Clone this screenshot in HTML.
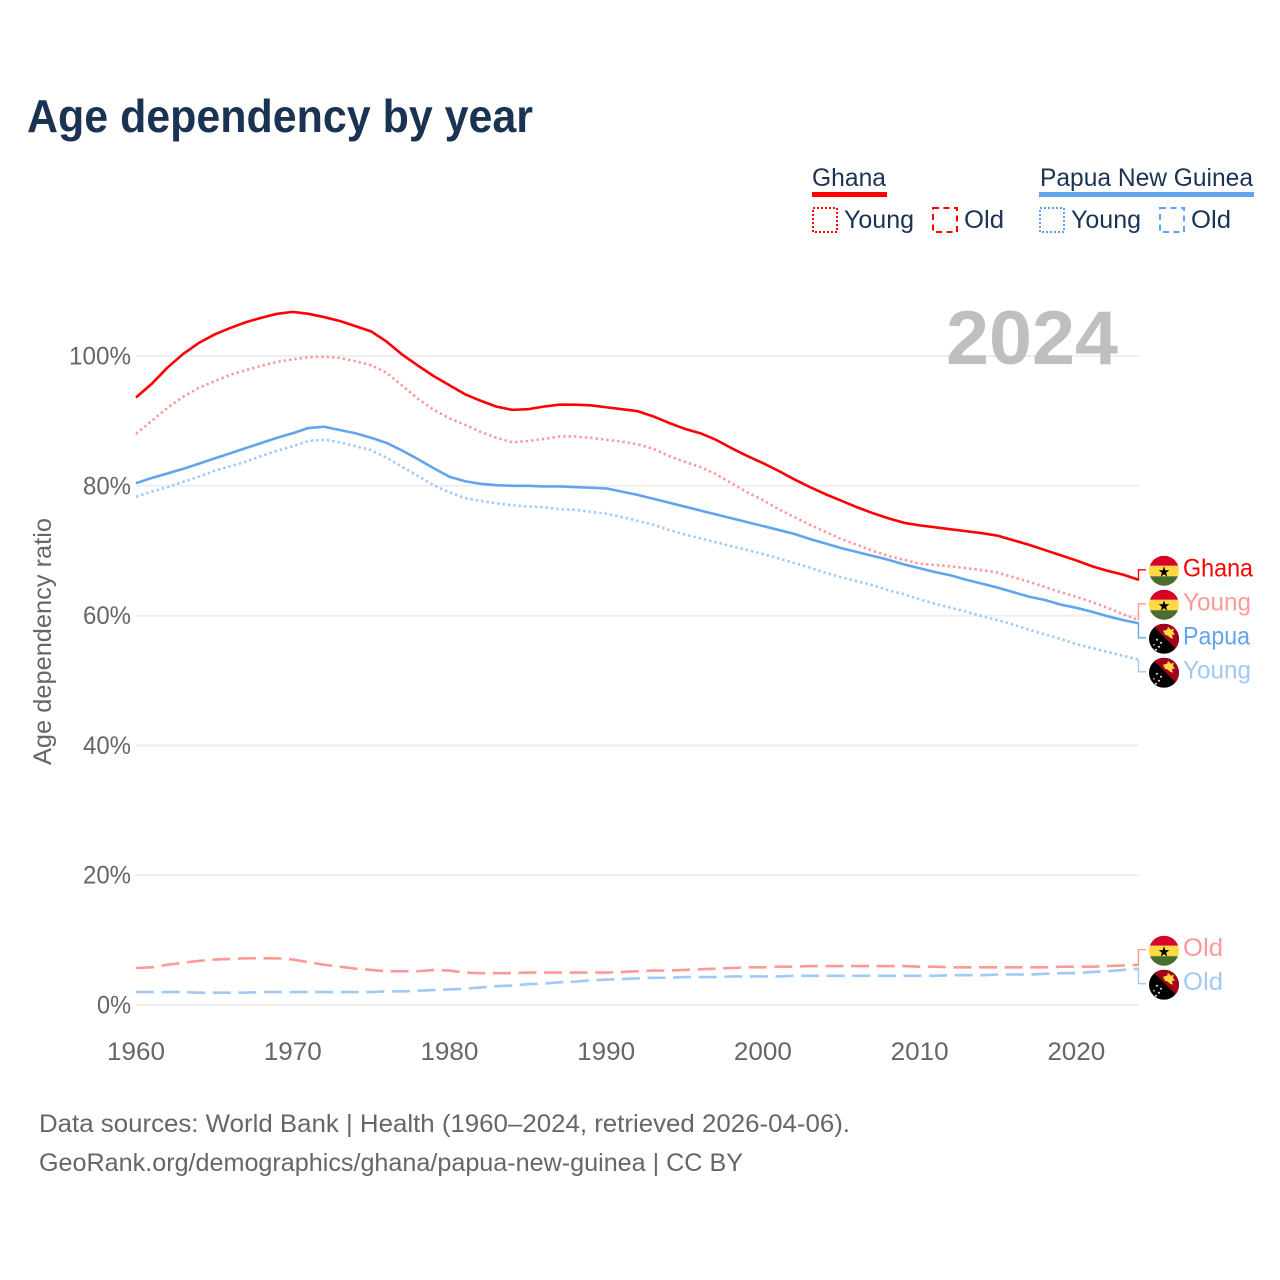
<!DOCTYPE html>
<html lang="en">
<head>
<meta charset="utf-8">
<title>Age dependency by year</title>
<style>
  html, body { margin: 0; padding: 0; background: #fff; }
  svg { display: block; font-family: "Liberation Sans", sans-serif; }
  .legend-text { fill: #1a3353; font-size: 25px; }
  .axis-text { fill: #666; font-size: 25px; }
</style>
</head>
<body>
<svg id="chart" xmlns="http://www.w3.org/2000/svg" width="1280" height="1280" viewBox="0 0 1280 1280">
  <defs>
    <clipPath id="flag-clip"><circle cx="0" cy="0" r="15"></circle></clipPath>
    <g id="flag-ghana" clip-path="url(#flag-clip)">
      <rect x="-15" y="-15" width="30" height="10" fill="#d80027"></rect>
      <rect x="-15" y="-5" width="30" height="10.5" fill="#ffda44"></rect>
      <rect x="-15" y="5.5" width="30" height="10" fill="#496e2d"></rect>
      <polygon points="0,-4.5 1.3,-0.6 5.4,-0.6 2.1,1.9 3.3,5.8 0,3.4 -3.3,5.8 -2.1,1.9 -5.4,-0.6 -1.3,-0.6" fill="#000"></polygon>
    </g>
    <g id="flag-png" clip-path="url(#flag-clip)">
      <rect x="-15" y="-15" width="30" height="30" fill="#000"></rect>
      <polygon points="-13,-15 15,-15 15,13" fill="#a2001d"></polygon>
      <polygon points="-1,-8 3,-9 4,-12 7,-9 10,-10 9,-7 11,-4 8,-4 9,0 6,-1 4,-3 1,-4" fill="#ffda44"></polygon>
      <circle cx="-7" cy="1" r="1" fill="#eee"></circle>
      <circle cx="-3" cy="4" r="1" fill="#eee"></circle>
      <circle cx="-5" cy="8" r="1" fill="#eee"></circle>
      <circle cx="-8" cy="11" r="1" fill="#eee"></circle>
      <circle cx="-10" cy="6" r="0.8" fill="#eee"></circle>
    </g>
  </defs>

  <text x="27" y="132" font-size="46" font-weight="700" fill="#1a3353" textLength="506" lengthAdjust="spacingAndGlyphs">Age dependency by year</text>

  <g>
    <text class="legend-text" x="812" y="186" textLength="74" lengthAdjust="spacingAndGlyphs">Ghana</text>
    <rect x="812" y="192" width="75" height="5" fill="#ff0000"></rect>
    <rect x="813" y="208" width="24" height="24" fill="none" stroke="#ff0000" stroke-width="2" stroke-dasharray="2 2"></rect>
    <text class="legend-text" x="844" y="228" textLength="70" lengthAdjust="spacingAndGlyphs">Young</text>
    <rect x="933" y="208" width="24" height="24" fill="none" stroke="#ff0000" stroke-width="2" stroke-dasharray="6 4.5"></rect>
    <text class="legend-text" x="964" y="228" textLength="40" lengthAdjust="spacingAndGlyphs">Old</text>

    <text class="legend-text" x="1040" y="186" textLength="213" lengthAdjust="spacingAndGlyphs">Papua New Guinea</text>
    <rect x="1039" y="192" width="215" height="5" fill="#60a5ee"></rect>
    <rect x="1040" y="208" width="24" height="24" fill="none" stroke="#60a5ee" stroke-width="2" stroke-dasharray="2 2"></rect>
    <text class="legend-text" x="1071" y="228" textLength="70" lengthAdjust="spacingAndGlyphs">Young</text>
    <rect x="1160" y="208" width="24" height="24" fill="none" stroke="#60a5ee" stroke-width="2" stroke-dasharray="6 4.5"></rect>
    <text class="legend-text" x="1191" y="228" textLength="40" lengthAdjust="spacingAndGlyphs">Old</text>
  </g>

  <g id="grid"></g>

  <text x="946" y="364" font-size="76" font-weight="700" fill="#bfbfbf" textLength="172" lengthAdjust="spacingAndGlyphs">2024</text>

  <g id="y-ticks"></g>
  <g id="x-ticks"></g>
  <text class="axis-text" transform="translate(51,765) rotate(-90)" x="0" y="0" textLength="247" lengthAdjust="spacingAndGlyphs">Age dependency ratio</text>

  <g id="series"></g>
  <g id="end-labels"></g>

  <text class="axis-text" x="39" y="1132" textLength="811" lengthAdjust="spacingAndGlyphs">Data sources: World Bank | Health (1960–2024, retrieved 2026-04-06).</text>
  <text class="axis-text" x="39" y="1171" textLength="704" lengthAdjust="spacingAndGlyphs">GeoRank.org/demographics/ghana/papua-new-guinea | CC BY</text>
</svg>

<script>
const firstYear = 1960;
const lastYear = 2024;
const xTickYears = [1960, 1970, 1980, 1990, 2000, 2010, 2020];
const yTickValues = [0, 20, 40, 60, 80, 100];

const ghanaTotal = [93.6,95.7,98.2,100.3,102.0,103.3,104.3,105.2,105.9,106.5,106.8,106.5,106.0,105.4,104.6,103.8,102.2,100.2,98.5,96.9,95.5,94.1,93.1,92.2,91.7,91.8,92.2,92.5,92.5,92.4,92.1,91.8,91.5,90.7,89.7,88.8,88.1,87.1,85.8,84.6,83.5,82.3,81.0,79.8,78.7,77.7,76.7,75.8,75.0,74.3,73.9,73.6,73.3,73.0,72.7,72.3,71.6,70.9,70.1,69.3,68.5,67.6,66.9,66.3,65.5];
const ghanaYoung = [88.0,90.0,92.0,93.7,95.1,96.1,97.1,97.8,98.5,99.1,99.5,99.8,99.9,99.7,99.2,98.6,97.4,95.4,93.4,91.7,90.4,89.4,88.3,87.4,86.7,86.9,87.2,87.6,87.6,87.4,87.1,86.8,86.4,85.7,84.6,83.7,82.9,81.8,80.4,79.0,77.8,76.4,75.2,74.0,72.9,71.8,70.9,70.0,69.2,68.6,68.0,67.8,67.6,67.3,67.0,66.6,65.9,65.2,64.4,63.6,62.9,62.1,61.2,60.2,59.3];
const ghanaOld = [5.7,5.8,6.2,6.5,6.8,7.0,7.1,7.2,7.2,7.2,7.0,6.6,6.2,5.9,5.6,5.4,5.2,5.2,5.2,5.4,5.3,5.0,4.9,4.9,4.9,5.0,5.0,5.0,5.0,5.0,5.0,5.1,5.2,5.3,5.3,5.4,5.5,5.6,5.7,5.8,5.8,5.9,5.9,6.0,6.0,6.0,6.0,6.0,6.0,6.0,5.9,5.9,5.8,5.8,5.8,5.8,5.8,5.8,5.8,5.9,5.9,5.9,6.0,6.1,6.2];
const papuaTotal = [80.4,81.2,81.9,82.6,83.4,84.2,85.0,85.8,86.6,87.4,88.1,88.9,89.1,88.6,88.1,87.4,86.6,85.4,84.1,82.7,81.4,80.7,80.3,80.1,80.0,80.0,79.9,79.9,79.8,79.7,79.6,79.1,78.6,78.0,77.4,76.8,76.2,75.6,75.0,74.4,73.8,73.2,72.6,71.8,71.1,70.4,69.8,69.2,68.6,67.9,67.3,66.7,66.2,65.5,64.9,64.3,63.6,62.9,62.4,61.7,61.2,60.6,59.9,59.3,58.8];
const papuaYoung = [78.3,79.1,79.8,80.6,81.4,82.3,83.0,83.7,84.6,85.4,86.1,86.9,87.1,86.7,86.1,85.5,84.3,82.9,81.5,80.1,79.0,78.1,77.7,77.3,77.0,76.8,76.7,76.4,76.3,76.0,75.7,75.2,74.6,74.0,73.2,72.5,71.9,71.3,70.7,70.1,69.5,68.8,68.1,67.4,66.6,65.9,65.3,64.7,63.9,63.3,62.5,61.8,61.2,60.6,59.9,59.3,58.6,57.8,57.1,56.4,55.6,55.0,54.4,53.8,53.2];
const papuaOld = [2.0,2.0,2.0,2.0,1.9,1.9,1.9,1.9,2.0,2.0,2.0,2.0,2.0,2.0,2.0,2.0,2.1,2.1,2.2,2.3,2.4,2.5,2.7,2.9,3.0,3.2,3.3,3.5,3.6,3.8,3.9,4.0,4.1,4.2,4.2,4.3,4.3,4.3,4.4,4.4,4.4,4.4,4.5,4.5,4.5,4.5,4.5,4.5,4.5,4.5,4.5,4.5,4.6,4.6,4.6,4.7,4.7,4.7,4.8,4.9,4.9,5.1,5.2,5.4,5.6];

const plotLeft = 136;
const plotRight = 1139;
const plotZero = 1005;
const plotHundred = 356;

function xScale(year) {
  return plotLeft + (year - firstYear) * (plotRight - plotLeft) / (lastYear - firstYear);
}
function yScale(value) {
  return plotZero + value * (plotHundred - plotZero) / 100;
}
function make(tag, parent, attrs, text) {
  const el = document.createElementNS('http://www.w3.org/2000/svg', tag);
  Object.keys(attrs).forEach(function (k) { el.setAttribute(k, attrs[k]); });
  if (text !== undefined) el.textContent = text;
  parent.appendChild(el);
  return el;
}

const gridGroup = document.getElementById('grid');
const yTickGroup = document.getElementById('y-ticks');
const xTickGroup = document.getElementById('x-ticks');
const seriesGroup = document.getElementById('series');
const labelGroup = document.getElementById('end-labels');

yTickValues.forEach(function (v) {
  const line = make('line', gridGroup, { x1: plotLeft, x2: plotRight, y1: yScale(v), y2: yScale(v), stroke: '#eeeeee', 'stroke-width': 2 });
  
  
  const label = v + '%';
  const tick = make('text', yTickGroup, { class: 'axis-text', x: 131, y: yScale(v) + 8.5, 'text-anchor': 'end', textLength: (String(v).length * 14 + 20), lengthAdjust: 'spacingAndGlyphs' }, label);
  
  
});

xTickYears.forEach(function (yr) {
  const tick = make('text', xTickGroup, { class: 'axis-text', x: xScale(yr), y: 1060, 'text-anchor': 'middle', textLength: 58, lengthAdjust: 'spacingAndGlyphs' }, String(yr));
  
  
});

const seriesList = [
  { id: 'ghana-old', values: ghanaOld, color: '#ff9999', dash: '18 7.6', label: 'Old', flag: 'flag-ghana' },
  { id: 'papua-old', values: papuaOld, color: '#a0c9f5', dash: '18 7.6', label: 'Old', flag: 'flag-png' },
  { id: 'papua-young', values: papuaYoung, color: '#a0c9f5', dash: '2.4 3', label: 'Young', flag: 'flag-png' },
  { id: 'ghana-young', values: ghanaYoung, color: '#ff9999', dash: '2.4 3', label: 'Young', flag: 'flag-ghana' },
  { id: 'papua-total', values: papuaTotal, color: '#60a5ee', dash: 'none', label: 'Papua', flag: 'flag-png' },
  { id: 'ghana-total', values: ghanaTotal, color: '#ff0000', dash: 'none', label: 'Ghana', flag: 'flag-ghana' }
];

seriesList.forEach(function (s) {
  const d = s.values.map(function (v, i) {
    return (i ? 'L' : 'M') + xScale(firstYear + i).toFixed(2) + ' ' + yScale(v).toFixed(2);
  }).join(' ');
  const path = make('path', seriesGroup, { d: d, fill: 'none', stroke: s.color, 'stroke-width': 2.6, 'stroke-dasharray': s.dash, 'stroke-linejoin': 'round' });
  
  
});

/* End labels: sort by end value, cluster overlapping labels, spread each cluster evenly. */
const slotGap = 34;
const ordered = seriesList.map(function (s) {
  return { s: s, endY: yScale(s.values[s.values.length - 1]) };
}).sort(function (a, b) { return a.endY - b.endY; });

let clusters = ordered.map(function (o) { return { items: [o], center: o.endY }; });
let merged = true;
while (merged) {
  merged = false;
  for (let i = 0; i < clusters.length - 1; i++) {
    const a = clusters[i];
    const b = clusters[i + 1];
    const aBottom = a.center + (a.items.length - 1) * slotGap / 2;
    const bTop = b.center - (b.items.length - 1) * slotGap / 2;
    if (bTop - aBottom < slotGap) {
      const items = a.items.concat(b.items);
      const center = items.reduce(function (t, o) { return t + o.endY; }, 0) / items.length;
      clusters.splice(i, 2, { items: items, center: center });
      merged = true;
      break;
    }
  }
}

clusters.forEach(function (c) {
  c.items.forEach(function (o, idx) {
    const slotY = c.center + (idx - (c.items.length - 1) / 2) * slotGap;
    const s = o.s;
    const connector = make('path', labelGroup, { d: 'M' + (plotRight - 0.5) + ' ' + o.endY.toFixed(2) + ' V' + slotY.toFixed(2) + ' H1146', fill: 'none', stroke: s.color, 'stroke-width': 1.4 });
    
    
    const flag = make('use', labelGroup, { href: '#' + s.flag, transform: 'translate(1164,' + (slotY + 1).toFixed(2) + ')' });
    
    
    const widths = { Ghana: 70, Young: 68, Papua: 67, Old: 40 };
    const label = make('text', labelGroup, { x: 1183, y: (slotY + 6.5).toFixed(2), fill: s.color, 'font-size': 25, textLength: widths[s.label], lengthAdjust: 'spacingAndGlyphs' }, s.label);
    
    
  });
});
</script>
</body>
</html>
